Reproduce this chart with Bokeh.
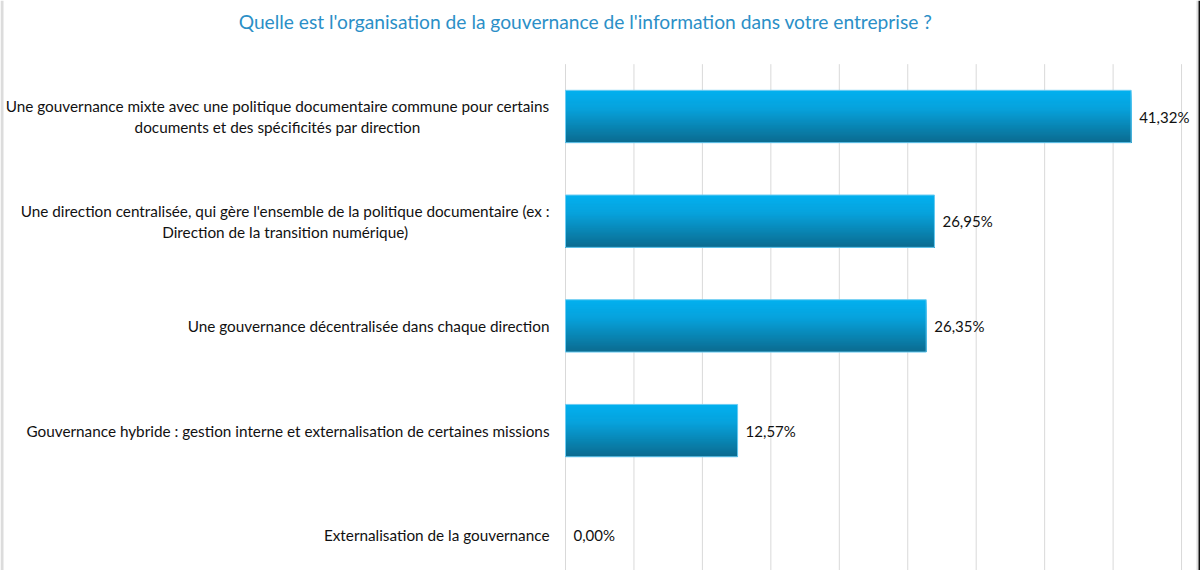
from bokeh.plotting import figure
from bokeh.models import Range1d, Label, BoxAnnotation, ColumnDataSource
from bokeh.core.properties import value
from bokeh.embed import file_html
from bokeh.resources import INLINE

# Survey answers (share of respondents, %)
categories = [
    "Une gouvernance mixte avec une politique documentaire commune pour certains\ndocuments et des spécificités par direction",
    "Une direction centralisée, qui gère l'ensemble de la politique documentaire (ex :\nDirection de la transition numérique)",
    "Une gouvernance décentralisée dans chaque direction",
    "Gouvernance hybride : gestion interne et externalisation de certaines missions",
    "Externalisation de la gouvernance",
]
shares = [41.32, 26.95, 26.35, 12.57, 0.00]
value_labels = ["41,32%", "26,95%", "26,35%", "12,57%", "0,00%"]
grid_ticks = [0, 5, 10, 15, 20, 25, 30, 35, 40, 45]

TITLE = "Quelle est l'organisation de la gouvernance de l'information dans votre entreprise ?"
FONT = "Lato"

W, H = 1200, 570
PX_PER_PCT = 13.69      # horizontal scale
PX_PER_CAT = 104.7      # vertical spacing between categories
X0_PX = 565             # screen position of 0 %
Y0_PX = 116             # screen position of first category centre

p = figure(width=W, height=H, output_backend="svg", toolbar_location=None,
           min_border=0, min_border_left=0, min_border_right=0,
           min_border_top=0, min_border_bottom=0)
p.x_range = Range1d(-X0_PX / PX_PER_PCT, (W - X0_PX) / PX_PER_PCT)
p.y_range = Range1d((H - Y0_PX) / PX_PER_CAT, -Y0_PX / PX_PER_CAT)
p.xaxis.visible = False
p.yaxis.visible = False
p.grid.visible = False
p.outline_line_color = None
p.background_fill_color = "white"
p.border_fill_color = "white"

n = len(categories)
ys = list(range(n))

# vertical gridlines across the category bands
p.segment(x0=grid_ticks, x1=grid_ticks,
          y0=[-0.5] * len(grid_ticks), y1=[n - 0.5] * len(grid_ticks),
          line_color="#d9d9d9", line_width=1)

# bars with a vertical gradient: stacked layers, each running from its
# own top edge down to the bar bottom, painted top-first so lower layers
# cover the rest without seams
BAR_H = 0.5
STRIPS = 48
top_c = (0x02, 0xb0, 0xef)
mid_c = (0x07, 0xa2, 0xdc)
bot_c = (0x0b, 0x6b, 0x8f)

def shade(t):
    if t < 0.35:
        a, b, u = top_c, mid_c, t / 0.35
    else:
        a, b, u = mid_c, bot_c, (t - 0.35) / 0.65
    return "#%02x%02x%02x" % tuple(int(round(a[k] + (b[k] - a[k]) * u)) for k in range(3))

lefts, rights, tops, bottoms, colors = [], [], [], [], []
for s in range(STRIPS):
    t0 = s / STRIPS
    t_mid = (s + 0.5) / STRIPS
    for y, v in zip(ys, shares):
        if v <= 0:
            continue
        lefts.append(0)
        rights.append(v)
        tops.append(y - BAR_H / 2 + t0 * BAR_H)
        bottoms.append(y + BAR_H / 2)
        colors.append(shade(t_mid))

p.quad(left=lefts, right=rights, top=tops, bottom=bottoms,
       fill_color=colors, line_color=None)

# thin light outline around each bar
bar_src = ColumnDataSource(dict(y=[y for y, v in zip(ys, shares) if v > 0],
                                v=[v for v in shares if v > 0]))
p.hbar(y="y", left=0, right="v", height=BAR_H, source=bar_src,
       fill_color=None, line_color="#6cccf2", line_width=1)

# value labels at bar ends
p.text(x=shares, y=ys, text=value_labels, x_offset=8,
       text_align="left", text_baseline="middle",
       text_font=value(FONT), text_font_size="15px", text_color="#111111")

# category labels, right-anchored with centred lines
p.text(x=[0] * n, y=ys, text=categories, x_offset=-16,
       anchor="center_right", text_align="center", text_baseline="middle",
       text_line_height=1.15,
       text_font=value(FONT), text_font_size="15.3px", text_color="#111111")

# title
p.add_layout(Label(x=585, y=H - 21, x_units="screen", y_units="screen",
                   text=TITLE, text_align="center", text_baseline="middle",
                   text_font=FONT, text_font_size="19.2px", text_color="#2b8fc7"))

# frame edges
p.add_layout(BoxAnnotation(left=0, right=3, left_units="screen", right_units="screen",
                           fill_color="#dcdcdc", fill_alpha=1, line_color=None))
p.add_layout(BoxAnnotation(left=W - 4, right=W - 2, left_units="screen", right_units="screen",
                           fill_color="#dcdcdc", fill_alpha=1, line_color=None))
p.add_layout(BoxAnnotation(left=W - 2, right=W, left_units="screen", right_units="screen",
                           fill_color="#111111", fill_alpha=1, line_color=None))

open("out.html", "w").write(file_html(p, INLINE))
